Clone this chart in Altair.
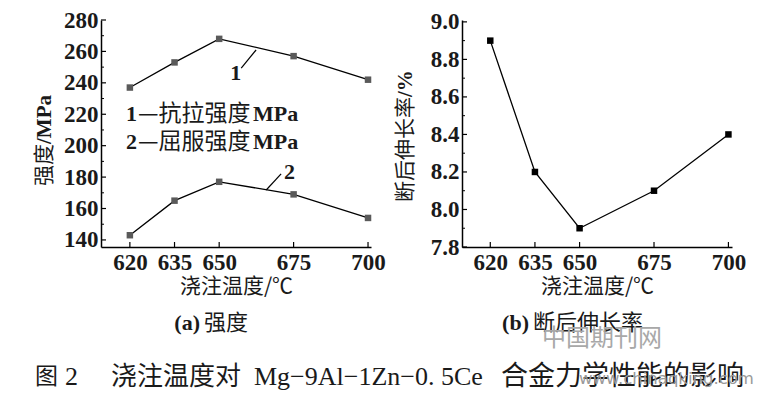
import altair as alt
import pandas as pd

# ---------------- data ----------------
temps = [620, 635, 650, 675, 700]
tensile = [237, 253, 268, 257, 242]      # curve 1 抗拉强度
yield_s = [143, 165, 177, 169, 154]      # curve 2 屈服强度
elong = [8.9, 8.2, 7.9, 8.1, 8.4]        # 断后伸长率 %

left_major = [140, 160, 180, 200, 220, 240, 260, 280]
left_minor = [150, 170, 190, 210, 230, 250, 270]
right_major = [7.8, 8.0, 8.2, 8.4, 8.6, 8.8, 9.0]
right_minor = [7.9, 8.1, 8.3, 8.5, 8.7, 8.9]

# leader lines for curve labels (data coords)
lead_x = [662.4, 665.8]
lead_y = [260.9, 171.8]
lead_x2 = [657.4, 670.8]
lead_y2 = [249.4, 182.0]
lab_x = [655.6, 673.6]
lab_y = [246.5, 183.5]
lab_t = ["1", "2"]

SERIF = "Liberation Serif"
CJK = "Noto Sans CJK SC"
INK = "#1a1a1a"
W = 270
H = 227

XAX = alt.Axis(values=temps, title="浇注温度/℃", labelFont=SERIF, labelFontWeight="bold",
               labelFontSize=23, labelColor=INK, ticks=False, labelPadding=4,
               titleFont=CJK, titleFontSize=21, titleFontWeight="normal", titleColor=INK,
               titlePadding=1, domainColor="black", domainWidth=1.5, grid=False,
               labelOverlap=False, labelFlush=False)

def y_axis(vals, fmt):
    return alt.Axis(values=vals, format=fmt, title=None, labelFont=SERIF,
                    labelFontWeight="bold", labelFontSize=23, labelColor=INK, ticks=False,
                    labelPadding=3, domainColor="black", domainWidth=1.5, grid=False,
                    labelOverlap=False, labelFlush=False)

YAXL = y_axis(left_major, "d")
YAXR = y_axis(right_major, ".1f")

# ---------------- left panel ----------------
xsL = alt.Scale(domain=[610.3, 701], nice=False, zero=False)
ysL = alt.Scale(domain=[135.5, 280], nice=False, zero=False)

strength = pd.DataFrame({
    "t": temps * 2,
    "v": tensile + yield_s,
    "s": ["1"] * 5 + ["2"] * 5,
})

def XL(f):
    return alt.X(f, type="quantitative", scale=xsL, axis=XAX)

def YL(f):
    return alt.Y(f, type="quantitative", scale=ysL, axis=YAXL)

lineL = alt.Chart(strength).mark_line(color="black", strokeWidth=1.3).encode(
    x=XL("t"), y=YL("v"), detail="s:N")
ptsL = alt.Chart(strength).mark_square(size=42, color="#5a5a5a", opacity=1).encode(
    x=XL("t"), y=YL("v"))

ytL = alt.Chart(pd.DataFrame({"v": left_major})).mark_rule(color="black", strokeWidth=1.2).encode(
    y=YL("v"), x=alt.value(0), x2=alt.value(5))
ymL = alt.Chart(pd.DataFrame({"v": left_minor})).mark_rule(color="black", strokeWidth=1).encode(
    y=YL("v"), x=alt.value(0), x2=alt.value(3))
xtL = alt.Chart(pd.DataFrame({"t": temps})).mark_rule(color="black", strokeWidth=1.2).encode(
    x=XL("t"), y=alt.value(H), y2=alt.value(H - 5))

lead_df = pd.DataFrame({"x": lead_x, "y": lead_y, "x2": lead_x2, "y2": lead_y2})
leads = alt.Chart(lead_df).mark_rule(color="black", strokeWidth=1.2).encode(
    x=XL("x"), y=YL("y"), x2="x2:Q", y2="y2:Q")
labs = alt.Chart(pd.DataFrame({"x": lab_x, "y": lab_y, "t": lab_t})).mark_text(
    font=SERIF, fontWeight="bold", fontSize=22, color=INK).encode(
    x=XL("x"), y=YL("y"), text="t:N")

one = pd.DataFrame({"a": [0]})

def txt(s, x, y, font, size, weight="normal", align="left", angle=0, color=INK):
    return alt.Chart(one).mark_text(font=font, fontSize=size, fontWeight=weight, align=align,
                                    baseline="middle", angle=angle, color=color).encode(
        x=alt.value(x), y=alt.value(y), text=alt.value(s))

legend_layers = [
    txt("1", 25, 94, SERIF, 22, "bold"),
    txt("—抗拉强度", 37, 94, CJK, 23),
    txt("MPa", 152, 94, SERIF, 22, "bold"),
    txt("2", 25, 122, SERIF, 22, "bold"),
    txt("—屈服强度", 37, 122, CJK, 23),
    txt("MPa", 152, 122, SERIF, 22, "bold"),
    txt("强度", -56.5, 166, CJK, 21, angle=270),
    txt("/MPa", -56.5, 124, SERIF, 21, "bold", angle=270),
]

left = alt.layer(lineL, ytL, ymL, xtL, ptsL, leads, labs, *legend_layers).properties(width=W, height=H)

# ---------------- right panel ----------------
xsR = alt.Scale(domain=[610.5, 701.2], nice=False, zero=False)
ysR = alt.Scale(domain=[7.8, 9.01], nice=False, zero=False)
elong_df = pd.DataFrame({"t": temps, "v": elong})

def XR(f):
    return alt.X(f, type="quantitative", scale=xsR, axis=XAX)

def YR(f):
    return alt.Y(f, type="quantitative", scale=ysR, axis=YAXR)

lineR = alt.Chart(elong_df).mark_line(color="black", strokeWidth=1.3).encode(x=XR("t"), y=YR("v"))
ptsR = alt.Chart(elong_df).mark_square(size=42, color="black", opacity=1).encode(x=XR("t"), y=YR("v"))
ytR = alt.Chart(pd.DataFrame({"v": right_major})).mark_rule(color="black", strokeWidth=1.2).encode(
    y=YR("v"), x=alt.value(0), x2=alt.value(5))
ymR = alt.Chart(pd.DataFrame({"v": right_minor})).mark_rule(color="black", strokeWidth=1).encode(
    y=YR("v"), x=alt.value(0), x2=alt.value(3))
xtR = alt.Chart(pd.DataFrame({"t": temps})).mark_rule(color="black", strokeWidth=1.2).encode(
    x=XR("t"), y=alt.value(H), y2=alt.value(H - 5))
titleR = [
    txt("断后伸长率", -56, 182, CJK, 21, angle=270),
    txt("/%", -56, 77, SERIF, 21, "bold", angle=270),
]
right = alt.layer(lineR, ytR, ymR, xtR, ptsR, *titleR).properties(width=W, height=H)

top = alt.hconcat(left, right, spacing=9)

# ---------------- captions (relative to left plot origin) ----------------
bottom_layers = [
    txt("(a)", 99, 27, SERIF, 22, "bold", align="right"),
    txt("强度", 103, 27, CJK, 22),
    txt("(b)", 428, 27, SERIF, 22, "bold", align="right"),
    txt("断后伸长率", 432, 27, CJK, 22),
    txt("中国期刊网", 441, 43, CJK, 24, color="#a8a8a8"),
    txt("图", -66, 81, CJK, 23),
    txt("2", -36, 81, SERIF, 26),
    txt("浇注温度对", 10, 81, CJK, 26),
    txt("Mg−9Al−1Zn−0. 5Ce", 153, 81, SERIF, 26),
    txt("合金力学性能的影响", 400, 81, CJK, 27),
    txt("www.chinaqking.com", 478, 83, "DejaVu Sans", 16.5, color="#9a9a9a"),
]
bottom = alt.layer(*bottom_layers).properties(width=600, height=40)

chart = alt.vconcat(top, bottom, spacing=0).properties(
    padding={"left": 25, "top": 1, "right": 0, "bottom": 0},
    background="white",
).configure_view(strokeWidth=0)

chart.save("out.html", embed_options={"renderer": "svg", "actions": False})
